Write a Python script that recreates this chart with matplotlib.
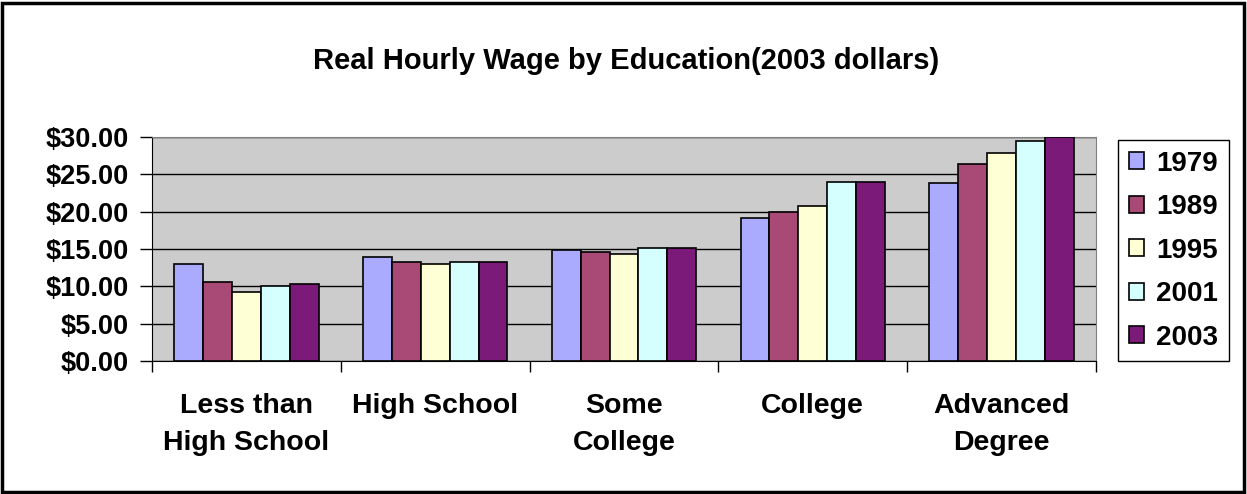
import numpy as np
import matplotlib
matplotlib.use("Agg")
import matplotlib.pyplot as plt
from matplotlib.ticker import StrMethodFormatter
from matplotlib.patches import Rectangle

# Data
categories = ["Less than\nHigh School", "High School", "Some\nCollege", "College", "Advanced\nDegree"]
years = ["1979", "1989", "1995", "2001", "2003"]
wage_1979 = [13.0, 13.9, 14.9, 19.2, 23.8]
wage_1989 = [10.6, 13.3, 14.6, 20.0, 26.4]
wage_1995 = [9.3, 13.0, 14.3, 20.8, 27.8]
wage_2001 = [10.1, 13.3, 15.2, 24.0, 29.4]
wage_2003 = [10.3, 13.3, 15.2, 24.0, 29.95]
series = [wage_1979, wage_1989, wage_1995, wage_2001, wage_2003]
colors = ["#AAAAFF", "#A94A76", "#FFFFD5", "#D5FFFF", "#7B1A78"]

plt.rcParams['font.family'] = ['Liberation Sans', 'DejaVu Sans']
plt.rcParams['font.weight'] = 'bold'

W, H = 1247, 494
fig = plt.figure(figsize=(W / 100, H / 100), dpi=100)
ax = fig.add_axes([152 / W, (H - 361) / H, 944 / W, 224 / H])
ax.set_facecolor("#CCCCCC")

x = np.arange(len(categories))
bw = 0.153
for i, (vals, col, yr) in enumerate(zip(series, colors, years)):
    ax.bar(x - 2.5 * bw + (i + 0.5) * bw, vals, width=bw, color=col,
           edgecolor="black", linewidth=1.2, label=yr, zorder=3)

ax.set_xlim(-0.5, len(categories) - 0.5)
ax.set_ylim(0, 30)
ax.set_yticks(np.arange(0, 31, 5))
ax.yaxis.set_major_formatter(StrMethodFormatter("${x:.2f}"))
ax.grid(axis='y', color='black', linewidth=1.0, zorder=1)
ax.set_axisbelow(True)

# category boundaries get the tick marks, labels sit at the centres
ax.set_xticks(np.arange(-0.5, len(categories), 1))
ax.set_xticklabels([""] * (len(categories) + 1))
ax.set_xticks(x, labels=categories, minor=True)
ax.tick_params(axis='x', which='major', length=8, width=1, direction='out')
ax.tick_params(axis='x', which='minor', length=0, pad=23, labelsize=20.5)
ax.tick_params(axis='y', length=9, width=1, pad=8, labelsize=19.5)
for lab in ax.get_xticklabels(minor=True):
    lab.set_linespacing(1.55)
    lab.set_fontweight('bold')
for lab in ax.get_yticklabels():
    lab.set_fontweight('bold')

for s in ["top", "right"]:
    ax.spines[s].set_color("#808080")
ax.spines["left"].set_color("black")
ax.spines["bottom"].set_color("black")

fig.text(626 / W, (H - 69) / H, "Real Hourly Wage by Education(2003 dollars)",
         ha='center', va='baseline', fontsize=21, fontweight='bold')

leg = fig.legend(loc='upper left', bbox_to_anchor=(1118 / W, (H - 140) / H),
                 borderaxespad=0, fancybox=False, frameon=True,
                 edgecolor='black', framealpha=1, prop={'size': 20, 'weight': 'bold'},
                 handlelength=0.55, handleheight=0.55, handletextpad=0.45,
                 labelspacing=0.63, borderpad=0.38)
leg.get_frame().set_linewidth(1.0)

# outer chart border
fig.patches.append(Rectangle((2 / W, 2 / H), (W - 5) / W, (H - 5) / H,
                             transform=fig.transFigure, fill=False,
                             edgecolor='black', linewidth=2.5))

fig.savefig("out.png", dpi=100)
